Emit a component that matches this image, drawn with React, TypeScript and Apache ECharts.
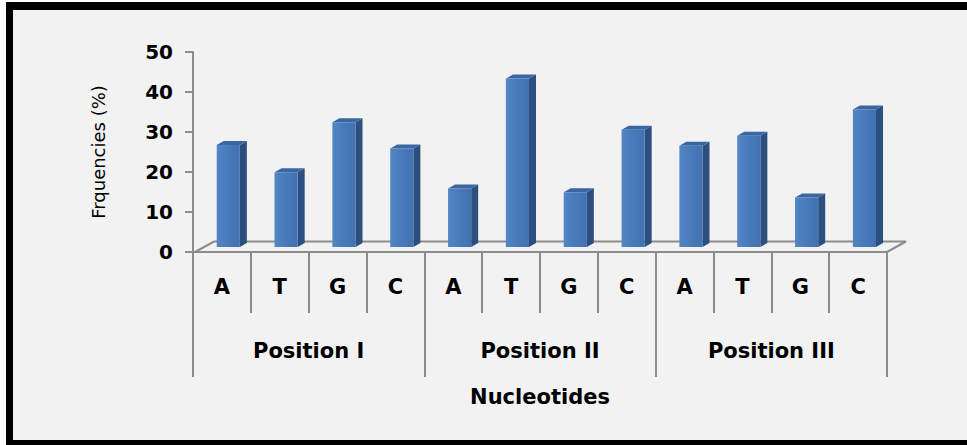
import React, { useEffect, useRef } from "react";
import * as echarts from "echarts";

const nucleotides = ["A", "T", "G", "C", "A", "T", "G", "C", "A", "T", "G", "C"];
const positions = ["Position I", "Position II", "Position III"];
const frequencies = [25.5, 18.7, 31.2, 24.6, 14.6, 42.1, 13.7, 29.3, 25.3, 27.8, 12.4, 34.4];
const yMin = 0;
const yMax = 50;
const yStep = 10;
const yTitle = "Frquencies (%)";
const xTitle = "Nucleotides";

const GRAY = "#8c8c8c";
const FONT = "DejaVu Sans";

export default function App() {
  const ref = useRef<HTMLDivElement>(null);

  useEffect(() => {
    if (!ref.current) return;
    const chart = echarts.init(ref.current, null, { renderer: "svg" });

    const floorDx = 19;
    const floorDy = -10.5;

    const option: any = {
      animation: false,
      backgroundColor: "#ffffff",
      graphic: [
        { type: "rect", z: -20, silent: true, shape: { x: 6, y: 2, width: 961, height: 443 }, style: { fill: "#000000" } },
        { type: "rect", z: -19, silent: true, shape: { x: 13, y: 10, width: 954, height: 430 }, style: { fill: "#f2f2f2" } },
      ],
      grid: { left: 193, top: 52, width: 694, height: 200, containLabel: false },
      xAxis: [
        {
          type: "category",
          data: nucleotides,
          position: "bottom",
          axisLine: { show: true, lineStyle: { color: GRAY, width: 2 } },
          axisTick: { show: true, interval: 0, length: 61, lineStyle: { color: GRAY, width: 2 } },
          axisLabel: { interval: 0, margin: 24, fontSize: 21, fontWeight: "bold", fontFamily: FONT, color: "#000" },
          splitLine: { show: false },
        },
        {
          type: "category",
          data: positions,
          position: "bottom",
          axisLine: { show: false },
          axisTick: { show: true, interval: 0, length: 125, lineStyle: { color: GRAY, width: 2 } },
          axisLabel: { interval: 0, margin: 88, fontSize: 21, fontWeight: "bold", fontFamily: FONT, color: "#000" },
          name: xTitle,
          nameLocation: "middle",
          nameGap: 134,
          nameTextStyle: { fontSize: 21, fontWeight: "bold", fontFamily: FONT, color: "#000" },
          splitLine: { show: false },
        },
      ],
      yAxis: {
        type: "value",
        min: yMin,
        max: yMax,
        interval: yStep,
        axisLine: { show: true, lineStyle: { color: GRAY, width: 2 } },
        axisTick: { show: true, length: 8, lineStyle: { color: GRAY, width: 2 } },
        axisLabel: { margin: 20, fontSize: 20, fontWeight: "bold", fontFamily: FONT, color: "#000" },
        splitLine: { show: false },
        name: yTitle,
        nameLocation: "middle",
        nameRotate: 90,
        nameGap: 86,
        nameTextStyle: { fontSize: 18, fontFamily: FONT, color: "#000" },
      },
      series: [
        {
          type: "custom",
          xAxisIndex: 0,
          z: 1,
          silent: true,
          data: [[0, 0]],
          renderItem: (params: any) => {
            const cs = params.coordSys;
            const x0 = cs.x + 2;
            const x1 = cs.x + cs.width;
            const y0 = cs.y + cs.height;
            return {
              type: "polyline",
              shape: {
                points: [
                  [x0, y0],
                  [x0 + floorDx, y0 + floorDy],
                  [x1 + floorDx, y0 + floorDy],
                  [x1, y0],
                ],
              },
              style: { stroke: GRAY, lineWidth: 2, fill: null },
            };
          },
        },
        {
          type: "custom",
          xAxisIndex: 0,
          z: 3,
          data: frequencies.map((v, i) => [i, v]),
          renderItem: (params: any, api: any) => {
            const i = api.value(0);
            const v = api.value(1);
            const base = api.coord([i, 0]);
            const top = api.coord([i, v]);
            const bw = api.size([1, 0])[0];
            const cx = base[0];
            const fl = cx - 0.09 * bw;
            const fr = cx + 0.31 * bw;
            const oy = -5;
            const yb = base[1] + oy;
            const yt = top[1] + oy;
            const dx = 7;
            const dy = -4;
            return {
              type: "group",
              children: [
                {
                  type: "polygon",
                  shape: { points: [[fr, yt], [fr + dx, yt + dy], [fr + dx, yb + dy], [fr, yb]] },
                  style: { fill: "#2b4f7e" },
                },
                {
                  type: "polygon",
                  shape: { points: [[fl, yt], [fl + dx, yt + dy], [fr + dx, yt + dy], [fr, yt]] },
                  style: { fill: "#3a66a1" },
                },
                {
                  type: "rect",
                  shape: { x: fl, y: yt, width: fr - fl, height: yb - yt },
                  style: {
                    fill: new echarts.graphic.LinearGradient(0, 0, 1, 0, [
                      { offset: 0, color: "#5386c6" },
                      { offset: 0.5, color: "#4879b9" },
                      { offset: 1, color: "#4272b0" },
                    ]),
                  },
                },
              ],
            };
          },
        },
      ],
    };

    chart.setOption(option);
    return () => chart.dispose();
  }, []);

  return (
    <div
      ref={ref}
      style={{ position: "absolute", left: 0, top: 0, width: 967, height: 445 }}
    />
  );
}
